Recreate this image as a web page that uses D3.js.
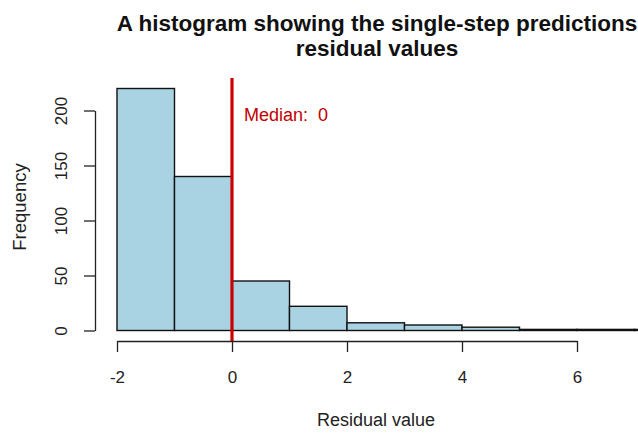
<!DOCTYPE html>
<html><head><meta charset="utf-8">
<script src="https://cdn.jsdelivr.net/npm/d3@7"></script>
<style>body{margin:0;background:#fff}svg{display:block;font-family:"Liberation Sans",Arial,sans-serif}</style>
</head><body><svg id="c" width="638" height="433"></svg>
<script>
const binStarts = [-2, -1, 0, 1, 2, 3, 4, 5, 6, 7];
const binEnds   = [-1, 0, 1, 2, 3, 4, 5, 6, 7, 8];
const counts    = [220, 140, 45, 22, 7, 5, 3, 1, 1, 1];
const xTicks = [-2, 0, 2, 4, 6];
const yTicks = [0, 50, 100, 150, 200];
const median = 0;
const titleLines = ["A histogram showing the single-step predictions", "residual values"];

const svg = d3.select("#c");
const x = d3.scaleLinear().domain([-2, 6]).range([117, 577]);
const y = d3.scaleLinear().domain([0, 200]).range([330.5, 110.5]);

// bars
svg.append("g").selectAll("rect").data(counts).join("rect")
  .attr("x", (d,i)=>x(binStarts[i]))
  .attr("width", (d,i)=>x(binEnds[i])-x(binStarts[i]))
  .attr("y", d=>y(d))
  .attr("height", d=>y(0)-y(d))
  .attr("fill", "#a9d3e3").attr("stroke", "#111").attr("stroke-width", 1.4);

// x axis
const xg = svg.append("g").attr("transform", `translate(0,341)`)
  .call(d3.axisBottom(x).tickValues(xTicks).tickSize(11).tickSizeOuter(0).tickFormat(d3.format("d")));
xg.select(".domain").attr("stroke","#222").attr("stroke-width",1.3);
xg.selectAll(".tick line").attr("stroke","#222").attr("stroke-width",1.3);
xg.selectAll("text").attr("font-size",17).attr("fill","#222").attr("y",42).attr("dy",0)
  .text(d=>d<0?"-"+Math.abs(d):d);

// y axis
const yg = svg.append("g").attr("transform", `translate(95,0)`)
  .call(d3.axisLeft(y).tickValues(yTicks).tickSize(11).tickSizeOuter(0).tickFormat(d3.format("d")));
yg.select(".domain").attr("stroke","#222").attr("stroke-width",1.3);
yg.selectAll(".tick line").attr("stroke","#222").attr("stroke-width",1.3);
yg.selectAll("text").attr("font-size",17).attr("fill","#222")
  .attr("transform","rotate(-90)").attr("x",0).attr("y",-28).attr("dy",0).attr("text-anchor","middle");

// median line
svg.append("line").attr("x1", x(median)).attr("x2", x(median))
  .attr("y1", 78).attr("y2", 341).attr("stroke","#cc0000").attr("stroke-width",3.2);
svg.append("text").attr("x", x(median)+12).attr("y", 121).attr("font-size",18).attr("fill","#c00000")
  .attr("xml:space","preserve").style("white-space","pre")
  .text("Median:  " + median);

// titles
svg.append("g").selectAll("text").data(titleLines).join("text")
  .attr("x", 377).attr("y",(d,i)=>31+i*25).attr("text-anchor","middle")
  .attr("font-size",22.5).attr("font-weight","bold").attr("fill","#111").text(d=>d);

svg.append("text").attr("x", 376).attr("y", 426).attr("text-anchor","middle")
  .attr("font-size",18).attr("fill","#222").text("Residual value");
svg.append("text").attr("transform","translate(26,207) rotate(-90)").attr("text-anchor","middle")
  .attr("font-size",18.5).attr("fill","#222").text("Frequency");
</script></body></html>
